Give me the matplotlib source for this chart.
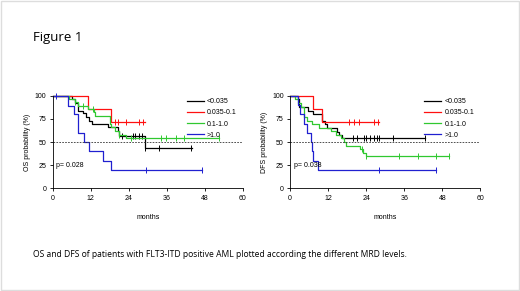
import matplotlib.pyplot as plt
from matplotlib.patches import Rectangle

groups = ['<0.035', '0.035-0.1', '0.1-1.0', '>1.0']
colors = ['#000000', '#ff1010', '#30c830', '#2020d0']

# OS: step times / survival (%) / censor times
os_t = [
    [0, 6, 7, 8, 9.5, 10.5, 11.5, 12.5, 17.5, 20.5, 21, 29, 44],
    [0, 11.2, 18.3, 29],
    [0, 5.2, 7, 8, 11, 13, 13.5, 18, 18.5, 19.5, 21, 23, 52.5],
    [0, 4.9, 6.7, 8, 9.8, 11.5, 15.9, 18.3, 47.2],
]
os_s = [
    [100, 96, 92, 84, 81, 77, 73, 69, 66, 62, 57, 43, 43],
    [100, 86, 72, 72],
    [100, 96, 93, 89, 86, 82, 78, 70, 66, 62, 58, 54, 54],
    [100, 89, 80, 60, 50, 40, 30, 20, 20],
]
os_c = [
    [22, 25.3, 26.1, 27.1, 28.2, 29.2, 33.6, 43.5],
    [19.5, 20.5, 23.2, 27.3, 28.4],
    [7, 9.6, 12.7, 21, 24.7, 34.1, 35.7, 38.8, 41.4, 52.4],
    [1.2, 29.4, 47.2],
]

# DFS
dfs_t = [
    [0, 2.4, 2.9, 5.8, 7.4, 10, 11, 11.6, 14.7, 15.5, 16.3, 42.6],
    [0, 7.4, 10, 28],
    [0, 1.6, 2.4, 3.5, 4.5, 5.5, 7, 9, 13, 14.5, 16, 17, 17.5, 22, 23, 24, 50],
    [0, 2.6, 3.2, 4.5, 5.5, 6.5, 7, 7.4, 8.7, 46.1],
]
dfs_s = [
    [100, 96, 88, 84, 80, 73, 69, 65, 61, 58, 54, 54],
    [100, 86, 72, 72],
    [100, 96, 92, 88, 77, 73, 69, 65, 62, 58, 54, 50, 46, 42, 38, 35, 35],
    [100, 90, 80, 70, 60, 50, 40, 30, 20, 20],
]
dfs_c = [
    [19.8, 21.1, 23.2, 24, 25.3, 26.5, 27.4, 28.2, 32.4, 42.6],
    [18.7, 20.3, 21.9, 26.5, 27.6],
    [22.6, 24, 34.5, 40.5, 46.1, 50],
    [28.2, 46.1],
]

panels = [
    ('OS probability (%)', 'p= 0.028', os_t, os_s, os_c, 0.1013),
    ('DFS probability (%)', 'p= 0.038', dfs_t, dfs_s, dfs_c, 0.5577),
]

plt.rcParams['font.family'] = 'Liberation Sans'
fig = plt.figure(figsize=(5.2, 2.91), dpi=100)
fig.patches.append(Rectangle((0.002, 0.002), 0.996, 0.996, transform=fig.transFigure,
                             fill=False, edgecolor='#dddddd', linewidth=1))

for ylab, ptxt, T, S, C, x0 in panels:
    ax = fig.add_axes([x0, 0.353, 0.366, 0.318])
    for t, s, c, col, g in zip(T, S, C, colors, groups):
        ax.step(t, s, where='post', color=col, linewidth=0.9, label=g, clip_on=False)
        cs = []
        for ct in c:
            v = s[0]
            for ti, si in zip(t, s):
                if ti <= ct:
                    v = si
            cs.append(v)
        ax.plot(c, cs, linestyle='none', marker='|', color=col, ms=4, mew=0.7, clip_on=False)
    ax.axhline(50, color='#333333', linestyle=(0, (2, 1.5)), linewidth=0.6)
    ax.set_xlim(0, 60)
    ax.set_ylim(0, 100)
    ax.set_xticks(range(0, 61, 12))
    ax.set_yticks([0, 25, 50, 75, 100])
    ax.spines['top'].set_visible(False)
    ax.spines['right'].set_visible(False)
    ax.spines['left'].set_linewidth(0.6)
    ax.spines['bottom'].set_linewidth(0.6)
    ax.tick_params(labelsize=5, width=0.6, length=2.5, pad=2)
    ax.set_ylabel(ylab, fontsize=5, labelpad=3)
    ax.set_xlabel('months', fontsize=5, labelpad=9)
    ax.text(1.2, 25, ptxt, fontsize=5, va='center')
    ax.legend(loc='upper right', bbox_to_anchor=(1.0, 1.04), fontsize=5, frameon=False,
              handlelength=2.4, labelspacing=0.6, handletextpad=0.5)

fig.text(0.063, 0.87, 'Figure 1', fontsize=9.5, family='Open Sans', va='center')
fig.text(0.063, 0.126, 'OS and DFS of patients with FLT3-ITD positive AML plotted according the different MRD levels.',
         fontsize=6.15, family='Open Sans', va='center')

fig.savefig('out.png', dpi=100)
